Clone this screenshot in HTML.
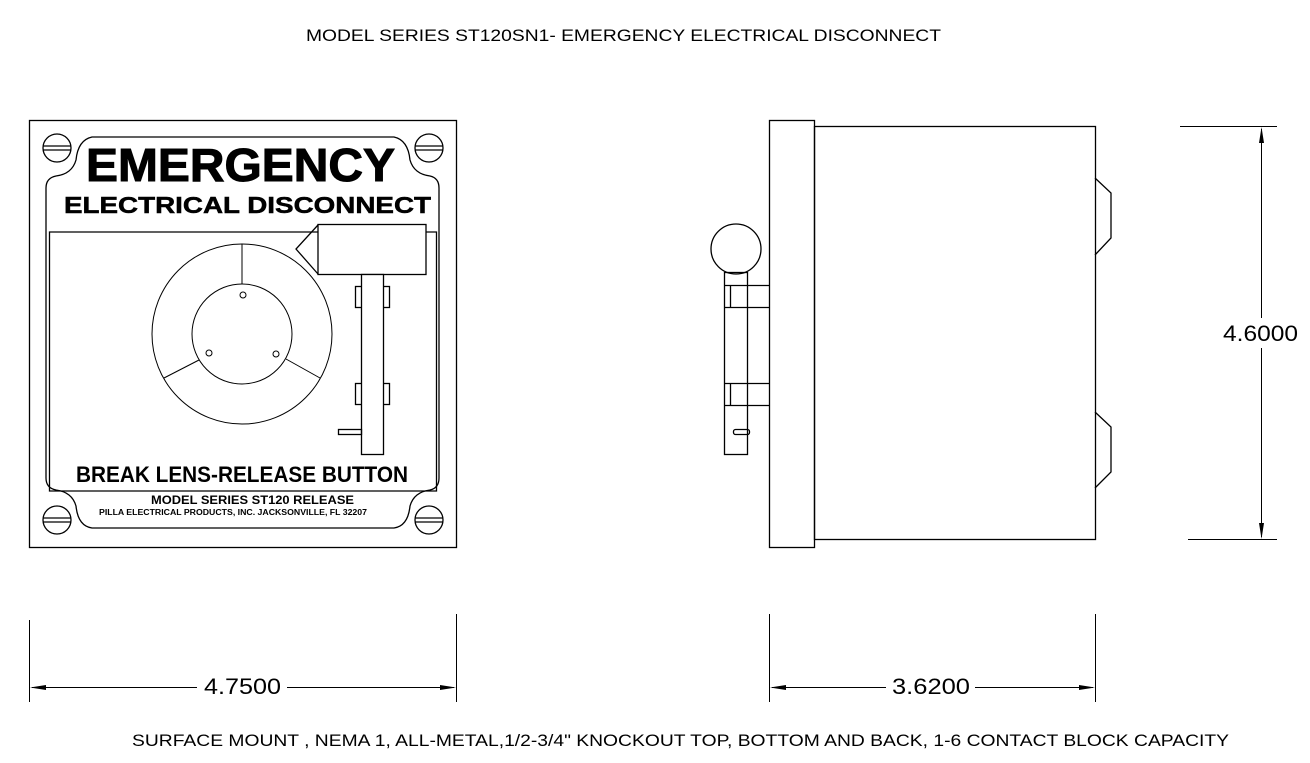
<!DOCTYPE html>
<html><head><meta charset="utf-8"><style>
html,body{margin:0;padding:0;background:#fff}
svg{display:block}
</style></head><body>
<svg width="1310" height="763" viewBox="0 0 1310 763" xmlns="http://www.w3.org/2000/svg" font-family="Liberation Sans, Arial, sans-serif">
<g fill="none" stroke="#000" stroke-width="1.3">
<rect x="29.5" y="120.5" width="427" height="427"/>
<path d="M46,188 Q46,178 56,176 Q72,174 76,160 Q78,140 92,137 L394,137 Q408,140 410,160 Q414,174 430,176 Q439,178 439,188 L439,478 Q439,488 430,490 Q414,492 410,506 Q408,526 394,528 L92,528 Q78,526 76,506 Q72,492 56,490 Q46,488 46,478 Z"/>
<path d="M318,232 L49.5,232 L49.5,491 L436.5,491 L436.5,232 L426,232"/>
<g>
<circle cx="57" cy="148" r="14"/><line x1="43" y1="146" x2="71" y2="146"/><line x1="43" y1="150" x2="71" y2="150"/>
<circle cx="429" cy="148" r="14"/><line x1="415" y1="146" x2="443" y2="146"/><line x1="415" y1="150" x2="443" y2="150"/>
<circle cx="57" cy="520" r="14"/><line x1="43" y1="518" x2="71" y2="518"/><line x1="43" y1="522" x2="71" y2="522"/>
<circle cx="429" cy="520" r="14"/><line x1="415" y1="518" x2="443" y2="518"/><line x1="415" y1="522" x2="443" y2="522"/>
</g>
<circle cx="242" cy="334" r="90" stroke-width="1"/>
<circle cx="242" cy="334" r="50" stroke-width="1"/>
<line x1="242" y1="244" x2="242" y2="284" stroke-width="1"/>
<line x1="164" y1="378" x2="199" y2="360" stroke-width="1"/>
<line x1="286" y1="359" x2="320" y2="378" stroke-width="1"/>
<circle cx="243" cy="295" r="3" stroke-width="1"/>
<circle cx="209" cy="353" r="3" stroke-width="1"/>
<circle cx="276" cy="354" r="3" stroke-width="1"/>
<rect x="318" y="224.5" width="108" height="50" fill="#fff"/>
<path d="M318,225 L296,249 L318,274"/>
<rect x="355.5" y="286.5" width="34" height="21"/>
<rect x="355.5" y="383.5" width="34" height="21"/>
<rect x="361.5" y="274.5" width="22" height="180" fill="#fff"/>
<rect x="338.5" y="429.5" width="23" height="5"/>
<rect x="769.5" y="120.5" width="45" height="427"/>
<rect x="814.5" y="126.5" width="281" height="413"/>
<path d="M1095,178 L1111,193 L1111,238 L1095,255"/>
<path d="M1095,412 L1111,427 L1111,472 L1095,488"/>
<circle cx="736" cy="249" r="25"/>
<rect x="724.5" y="272.5" width="23" height="182"/>
<line x1="724" y1="285.5" x2="769" y2="285.5"/><line x1="724" y1="307.5" x2="769" y2="307.5"/>
<line x1="724" y1="383.5" x2="769" y2="383.5"/><line x1="724" y1="405.5" x2="769" y2="405.5"/>
<line x1="730.5" y1="285" x2="730.5" y2="307"/><line x1="730.5" y1="383" x2="730.5" y2="405"/>
<rect x="733.5" y="429.5" width="16" height="5" rx="2"/>
<g stroke-width="1">
<line x1="29.5" y1="620" x2="29.5" y2="702"/><line x1="456.5" y1="614" x2="456.5" y2="702"/>
<line x1="32" y1="687.5" x2="197" y2="687.5"/><line x1="287" y1="687.5" x2="454" y2="687.5"/>
<line x1="769.5" y1="614" x2="769.5" y2="702"/><line x1="1095.5" y1="614" x2="1095.5" y2="702"/>
<line x1="772" y1="687.5" x2="886" y2="687.5"/><line x1="975" y1="687.5" x2="1093" y2="687.5"/>
<line x1="1180" y1="126.5" x2="1277" y2="126.5"/><line x1="1188" y1="539.5" x2="1277" y2="539.5"/>
<line x1="1261.5" y1="129" x2="1261.5" y2="318"/><line x1="1261.5" y1="348" x2="1261.5" y2="537"/>
</g>
</g>
<g fill="#000">
<path d="M30,687.5 L46,685 L46,690 Z"/><path d="M456,687.5 L440,685 L440,690 Z"/>
<path d="M770,687.5 L786,685 L786,690 Z"/><path d="M1095,687.5 L1079,685 L1079,690 Z"/>
<path d="M1261.5,127 L1259,143 L1264,143 Z"/><path d="M1261.5,539 L1259,523 L1264,523 Z"/>
</g>
<g fill="#000">
<text x="86" y="181" font-size="46" font-weight="bold" stroke="#000" stroke-width="1" textLength="309" lengthAdjust="spacingAndGlyphs">EMERGENCY</text>
<text x="64" y="213" font-size="23" font-weight="bold" stroke="#000" stroke-width="0.5" textLength="367" lengthAdjust="spacingAndGlyphs">ELECTRICAL DISCONNECT</text>
<text x="76" y="482" font-size="22" font-weight="bold" textLength="332" lengthAdjust="spacingAndGlyphs">BREAK  LENS-RELEASE BUTTON</text>
<text x="151" y="504" font-size="12" font-weight="bold" textLength="203" lengthAdjust="spacingAndGlyphs">MODEL SERIES ST120 RELEASE</text>
<text x="99" y="515" font-size="8" font-weight="bold" textLength="268" lengthAdjust="spacingAndGlyphs">PILLA ELECTRICAL PRODUCTS, INC. JACKSONVILLE, FL 32207</text>
<text x="306" y="41" font-size="17" textLength="635" lengthAdjust="spacingAndGlyphs">MODEL SERIES ST120SN1- EMERGENCY ELECTRICAL DISCONNECT</text>
<text x="132" y="746" font-size="17" textLength="1097" lengthAdjust="spacingAndGlyphs">SURFACE MOUNT , NEMA 1, ALL-METAL,1/2-3/4" KNOCKOUT TOP, BOTTOM AND BACK, 1-6 CONTACT BLOCK CAPACITY</text>
</g>
<g fill="#000" font-size="22" font-weight="normal">
<text x="204" y="694" textLength="77" lengthAdjust="spacingAndGlyphs">4.7500</text>
<text x="892" y="694" textLength="78" lengthAdjust="spacingAndGlyphs">3.6200</text>
<text x="1223" y="341" textLength="75" lengthAdjust="spacingAndGlyphs">4.6000</text>
</g>
</svg>
</body></html>
